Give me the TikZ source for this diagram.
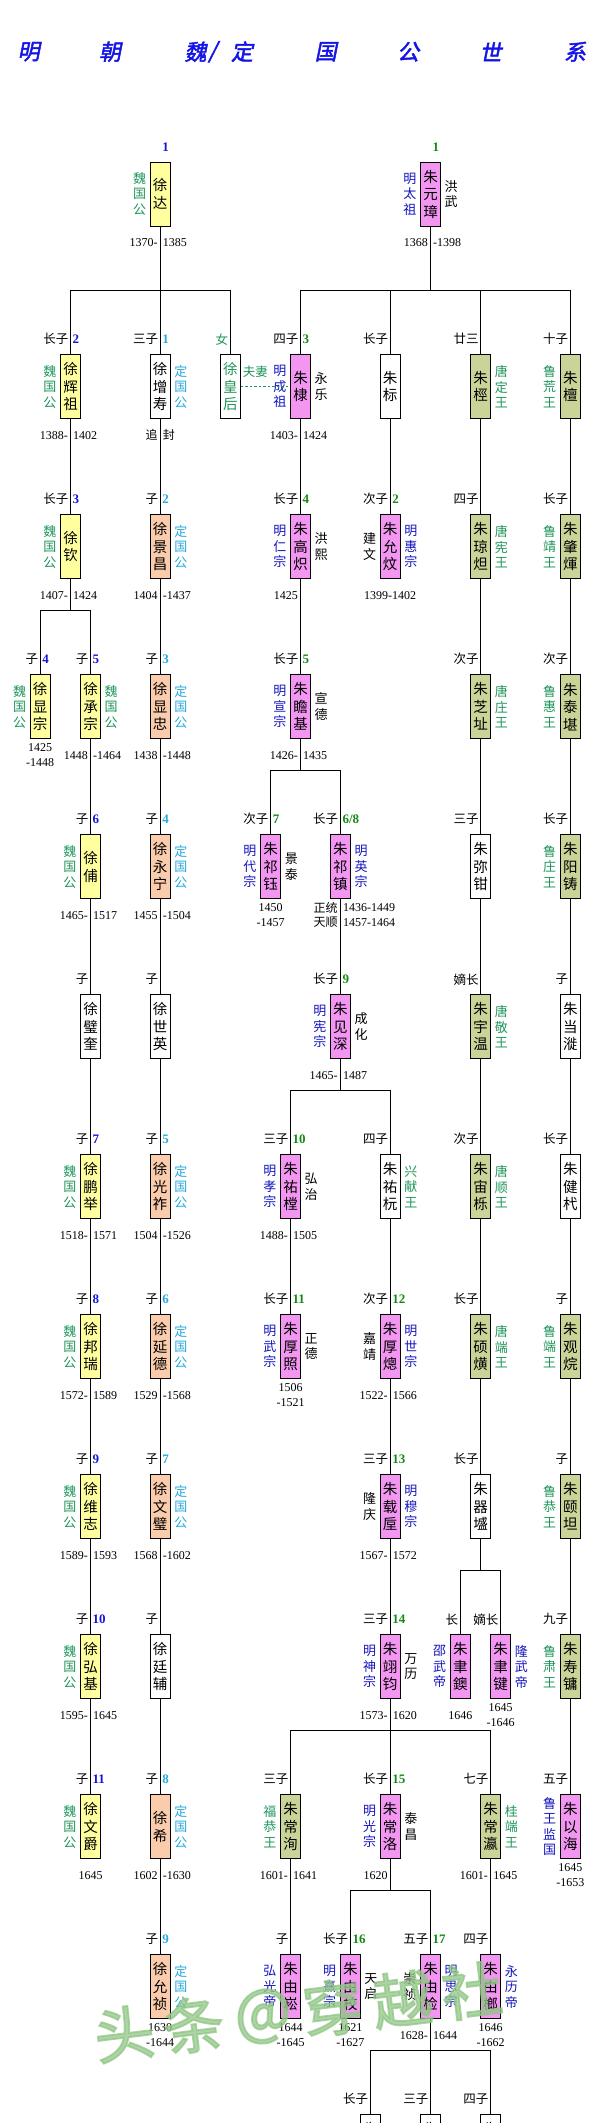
\documentclass[tikz,border=0pt]{standalone}
\usepackage{fontspec}
\setmainfont{Liberation Serif}
\newfontfamily\cjk{Noto Sans CJK SC}
\newfontfamily\titlef[FakeBold=2,FakeSlant=0.2]{Noto Sans CJK SC}
\newfontfamily\wmf[FakeBold=3]{Noto Sans CJK SC}
\definecolor{cwei}{RGB}{255,255,160}
\definecolor{cding}{RGB}{250,204,172}
\definecolor{cemp}{RGB}{242,150,242}
\definecolor{cprn}{RGB}{202,212,152}
\definecolor{wg}{RGB}{30,150,90}
\definecolor{dc}{RGB}{40,170,220}
\definecolor{mb}{RGB}{20,20,190}
\definecolor{nb}{RGB}{20,20,220}
\definecolor{ng}{RGB}{20,140,20}
\definecolor{tb}{RGB}{20,20,230}
\definecolor{wm}{RGB}{145,198,134}
\tikzset{
 pbox/.style={draw,line width=0.9pt,minimum width=20pt,minimum height=64pt,inner sep=0pt,align=center,font=\cjk\fontsize{14.5}{17.5}\selectfont},
 wei/.style={pbox,fill=cwei}, ding/.style={pbox,fill=cding}, emp/.style={pbox,fill=cemp},
 prn/.style={pbox,fill=cprn}, wht/.style={pbox,fill=white},
 rel/.style={inner sep=0pt,font=\cjk\fontsize{12.5}{14}\selectfont},
 num/.style={inner sep=0pt,font=\fontsize{13}{14}\selectfont\bfseries},
 side/.style={inner sep=0pt,align=center,font=\cjk\fontsize{13}{15.5}\selectfont},
 dat/.style={inner sep=0pt,font=\fontsize{12}{14}\selectfont},
 conn/.style={line width=0.9pt},
 ttl/.style={inner sep=0pt,text=tb,font=\titlef\fontsize{22}{24}\selectfont},
}
\newcommand\rl[3]{\node[rel,anchor=east] (#1r) at ([xshift=-2pt,yshift=15pt]#1.north) {#2};
 \node[num,anchor=west] (#1n) at ([xshift=2pt,yshift=15pt]#1.north) {#3};}
\newcommand\lt[3]{\node[side,anchor=east,text=#2] (#1l) at ([xshift=-3.5pt]#1.west) {#3};}
\newcommand\rt[3]{\node[side,anchor=west,text=#2] (#1rt) at ([xshift=3.5pt]#1.east) {#3};}
\newcommand\dtx[5]{\node[dat,anchor=east] (#1#2l) at ([xshift=-2.5pt,yshift=-#3pt]#1.south) {#4};
 \node[dat,anchor=west] (#1#2r) at ([xshift=2.5pt,yshift=-#3pt]#1.south) {#5};}
\newcommand\dt[3]{\dtx{#1}{d}{16}{#2}{#3}}
\newcommand\dtc[2]{\node[dat] (#1dc) at ([yshift=-16pt]#1.south) {#2};}
\newcommand\dtt[3]{\node[dat] (#1da) at ([yshift=-8.5pt]#1.south) {#2};
 \node[dat] (#1db) at ([yshift=-23.3pt]#1.south) {#3};}
\begin{document}
\begin{tikzpicture}[x=1pt,y=-1pt]
\useasboundingbox[fill=white] (0,0) rectangle (601,2123);
% title
\node[ttl] (t1) at (28.7,51.7) {明};
\node[ttl] (t2) at (110,51.7) {朝};
\node[ttl] (t3) at (195.5,51.7) {魏};
\node[ttl] (t4) at (212.7,51.7) {/};
\node[ttl] (t5) at (242,51.7) {定};
\node[ttl] (t6) at (325.8,51.7) {国};
\node[ttl] (t7) at (408.2,51.7) {公};
\node[ttl] (t8) at (490.6,51.7) {世};
\node[ttl] (t9) at (575,51.7) {系};
% ===== Xu family =====
\node[wei] (xuda) at (160.2,194) {徐\\达};
\node[num,anchor=west] (xudan) at ([xshift=2pt,yshift=14pt]xuda.north) {\color{nb}1};
\lt{xuda}{wg}{魏\\国\\公}
\dt{xuda}{1370-}{1385}
% R2
\node[wei] (huizu) at (70.5,386.7) {徐\\辉\\祖};
\rl{huizu}{长子}{\color{nb}2}\lt{huizu}{wg}{魏\\国\\公}\dt{huizu}{1388-}{1402}
\node[wht] (zengshou) at (160.2,386.7) {徐\\增\\寿};
\rl{zengshou}{三子}{\color{dc}1}\rt{zengshou}{dc}{定\\国\\公}\dt{zengshou}{\cjk 追}{\cjk 封}
\node[wht,text=wg] (huanghou) at (230.4,386.7) {徐\\皇\\后};
\rl{huanghou}{\color{wg}女}{}
% R3
\node[wei] (xuqin) at (70.5,546.7) {徐\\钦};
\rl{xuqin}{长子}{\color{nb}3}\lt{xuqin}{wg}{魏\\国\\公}\dt{xuqin}{1407-}{1424}
\node[ding] (jingchang) at (160.2,546.7) {徐\\景\\昌};
\rl{jingchang}{子}{\color{dc}2}\rt{jingchang}{dc}{定\\国\\公}\dt{jingchang}{1404}{-1437}
% R4
\node[wei] (xianzong) at (40.2,706.7) {徐\\显\\宗};
\rl{xianzong}{子}{\color{nb}4}\lt{xianzong}{wg}{魏\\国\\公}\dtt{xianzong}{1425}{-1448}
\node[wei] (chengzong) at (90.5,706.7) {徐\\承\\宗};
\rl{chengzong}{子}{\color{nb}5}\rt{chengzong}{wg}{魏\\国\\公}\dt{chengzong}{1448}{-1464}
\node[ding] (xianzhong) at (160.2,706.7) {徐\\显\\忠};
\rl{xianzhong}{子}{\color{dc}3}\rt{xianzhong}{dc}{定\\国\\公}\dt{xianzhong}{1438}{-1448}
% R5
\node[wei] (fu) at (90.5,866.7) {徐\\俌};
\rl{fu}{子}{\color{nb}6}\lt{fu}{wg}{魏\\国\\公}\dt{fu}{1465-}{1517}
\node[ding] (yongning) at (160.2,866.7) {徐\\永\\宁};
\rl{yongning}{子}{\color{dc}4}\rt{yongning}{dc}{定\\国\\公}\dt{yongning}{1455}{-1504}
% R6
\node[wht] (kuibi) at (90.5,1026.7) {徐\\璧\\奎};
\rl{kuibi}{子}{}
\node[wht] (shiying) at (160.2,1026.7) {徐\\世\\英};
\rl{shiying}{子}{}
% R7
\node[wei] (pengju) at (90.5,1186.7) {徐\\鹏\\举};
\rl{pengju}{子}{\color{nb}7}\lt{pengju}{wg}{魏\\国\\公}\dt{pengju}{1518-}{1571}
\node[ding] (guangzuo) at (160.2,1186.7) {徐\\光\\祚};
\rl{guangzuo}{子}{\color{dc}5}\rt{guangzuo}{dc}{定\\国\\公}\dt{guangzuo}{1504}{-1526}
% R8
\node[wei] (bangrui) at (90.5,1346.7) {徐\\邦\\瑞};
\rl{bangrui}{子}{\color{nb}8}\lt{bangrui}{wg}{魏\\国\\公}\dt{bangrui}{1572-}{1589}
\node[ding] (yande) at (160.2,1346.7) {徐\\延\\德};
\rl{yande}{子}{\color{dc}6}\rt{yande}{dc}{定\\国\\公}\dt{yande}{1529}{-1568}
% R9
\node[wei] (weizhi) at (90.5,1506.7) {徐\\维\\志};
\rl{weizhi}{子}{\color{nb}9}\lt{weizhi}{wg}{魏\\国\\公}\dt{weizhi}{1589-}{1593}
\node[ding] (wenbi) at (160.2,1506.7) {徐\\文\\璧};
\rl{wenbi}{子}{\color{dc}7}\rt{wenbi}{dc}{定\\国\\公}\dt{wenbi}{1568}{-1602}
% R10
\node[wei] (hongji) at (90.5,1666.7) {徐\\弘\\基};
\rl{hongji}{子}{\color{nb}10}\lt{hongji}{wg}{魏\\国\\公}\dt{hongji}{1595-}{1645}
\node[wht] (tingfu) at (160.2,1666.7) {徐\\廷\\辅};
\rl{tingfu}{子}{}
% R11
\node[wei] (wenjue) at (90.5,1826.7) {徐\\文\\爵};
\rl{wenjue}{子}{\color{nb}11}\lt{wenjue}{wg}{魏\\国\\公}\dtc{wenjue}{1645}
\node[ding] (xixi) at (160.2,1826.7) {徐\\希};
\rl{xixi}{子}{\color{dc}8}\rt{xixi}{dc}{定\\国\\公}\dt{xixi}{1602}{-1630}
% R12
\node[ding] (yunzhen) at (160.2,1986.7) {徐\\允\\祯};
\rl{yunzhen}{子}{\color{dc}9}\rt{yunzhen}{dc}{定\\国\\公}\dtt{yunzhen}{1630}{-1644}
% ===== Zhu family =====
\node[emp] (yz) at (430.5,194) {朱\\元\\璋};
\node[num,anchor=west] (yzn) at ([xshift=2pt,yshift=14pt]yz.north) {\color{ng}1};
\lt{yz}{mb}{明\\太\\祖}\rt{yz}{black}{洪\\武}\dt{yz}{1368}{-1398}
% R2
\node[emp] (di) at (300.5,386.7) {朱\\棣};
\rl{di}{四子}{\color{ng}3}\lt{di}{mb}{明\\成\\祖}\rt{di}{black}{永\\乐}\dt{di}{1403-}{1424}
\node[wht] (biao) at (390.2,386.7) {朱\\标};
\rl{biao}{长子}{}
\node[prn] (jing) at (480.7,386.7) {朱\\桱};
\rl{jing}{廿三}{}\rt{jing}{wg}{唐\\定\\王}
\node[prn] (tan) at (570.3,386.7) {朱\\檀};
\rl{tan}{十子}{}\lt{tan}{wg}{鲁\\荒\\王}
% R3
\node[emp] (gaochi) at (300.5,546.7) {朱\\高\\炽};
\rl{gaochi}{长子}{\color{ng}4}\lt{gaochi}{mb}{明\\仁\\宗}\rt{gaochi}{black}{洪\\熙}\dt{gaochi}{1425}{}
\node[emp] (yunwen) at (390.2,546.7) {朱\\允\\炆};
\rl{yunwen}{次子}{\color{ng}2}\lt{yunwen}{black}{建\\文}\rt{yunwen}{mb}{明\\惠\\宗}\dtc{yunwen}{1399-1402}
\node[prn] (qiongda) at (480.7,546.7) {朱\\琼\\炟};
\rl{qiongda}{四子}{}\rt{qiongda}{wg}{唐\\宪\\王}
\node[prn] (zhaohui) at (570.3,546.7) {朱\\肇\\煇};
\rl{zhaohui}{长子}{}\lt{zhaohui}{wg}{鲁\\靖\\王}
% R4
\node[emp] (zhanji) at (300.5,706.7) {朱\\瞻\\基};
\rl{zhanji}{长子}{\color{ng}5}\lt{zhanji}{mb}{明\\宣\\宗}\rt{zhanji}{black}{宣\\德}\dt{zhanji}{1426-}{1435}
\node[prn] (zhizhi) at (480.7,706.7) {朱\\芝\\址};
\rl{zhizhi}{次子}{}\rt{zhizhi}{wg}{唐\\庄\\王}
\node[prn] (taikan) at (570.3,706.7) {朱\\泰\\堪};
\rl{taikan}{次子}{}\lt{taikan}{wg}{鲁\\惠\\王}
% R5
\node[emp] (qiyu) at (270.6,866.7) {朱\\祁\\钰};
\rl{qiyu}{次子}{\color{ng}7}\lt{qiyu}{mb}{明\\代\\宗}\rt{qiyu}{black}{景\\泰}\dtt{qiyu}{1450}{-1457}
\node[emp] (qizhen) at (340.4,866.7) {朱\\祁\\镇};
\rl{qizhen}{长子}{\color{ng}6/8}\rt{qizhen}{mb}{明\\英\\宗}
\dtx{qizhen}{a}{8.5}{\cjk 正统}{1436-1449}
\dtx{qizhen}{b}{23.3}{\cjk 天顺}{1457-1464}
\node[wht] (mijian) at (480.7,866.7) {朱\\弥\\钳};
\rl{mijian}{三子}{}
\node[prn] (yangzhu) at (570.3,866.7) {朱\\阳\\铸};
\rl{yangzhu}{长子}{}\lt{yangzhu}{wg}{鲁\\庄\\王}
% R6
\node[emp] (jianshen) at (340.4,1026.7) {朱\\见\\深};
\rl{jianshen}{长子}{\color{ng}9}\lt{jianshen}{mb}{明\\宪\\宗}\rt{jianshen}{black}{成\\化}\dt{jianshen}{1465-}{1487}
\node[prn] (yuwen) at (480.7,1026.7) {朱\\宇\\温};
\rl{yuwen}{嫡长}{}\rt{yuwen}{wg}{唐\\敬\\王}
\node[wht] (dangyi) at (570.3,1026.7) {朱\\当\\漇};
\rl{dangyi}{子}{}
% R7
\node[emp] (youtang) at (290.5,1186.7) {朱\\祐\\樘};
\rl{youtang}{三子}{\color{ng}10}\lt{youtang}{mb}{明\\孝\\宗}\rt{youtang}{black}{弘\\治}\dt{youtang}{1488-}{1505}
\node[wht] (youyuan) at (390.2,1186.7) {朱\\祐\\杬};
\rl{youyuan}{四子}{}\rt{youyuan}{wg}{兴\\献\\王}
\node[prn] (zhouli) at (480.7,1186.7) {朱\\宙\\栎};
\rl{zhouli}{次子}{}\rt{zhouli}{wg}{唐\\顺\\王}
\node[wht] (jianyi) at (570.3,1186.7) {朱\\健\\杙};
\rl{jianyi}{长子}{}
% R8
\node[emp] (houzhao) at (290.5,1346.7) {朱\\厚\\照};
\rl{houzhao}{长子}{\color{ng}11}\lt{houzhao}{mb}{明\\武\\宗}\rt{houzhao}{black}{正\\德}\dtt{houzhao}{1506}{-1521}
\node[emp] (houcong) at (390.2,1346.7) {朱\\厚\\熜};
\rl{houcong}{次子}{\color{ng}12}\lt{houcong}{black}{嘉\\靖}\rt{houcong}{mb}{明\\世\\宗}\dt{houcong}{1522-}{1566}
\node[prn] (shuohuang) at (480.7,1346.7) {朱\\硕\\熿};
\rl{shuohuang}{长子}{}\rt{shuohuang}{wg}{唐\\端\\王}
\node[prn] (guanding) at (570.3,1346.7) {朱\\观\\烷};
\rl{guanding}{子}{}\lt{guanding}{wg}{鲁\\端\\王}
% R9
\node[emp] (zaihou) at (390.2,1506.7) {朱\\载\\垕};
\rl{zaihou}{三子}{\color{ng}13}\lt{zaihou}{black}{隆\\庆}\rt{zaihou}{mb}{明\\穆\\宗}\dt{zaihou}{1567-}{1572}
\node[wht] (qiyong) at (480.7,1506.7) {朱\\器\\墭};
\rl{qiyong}{长子}{}
\node[prn] (yitan) at (570.3,1506.7) {朱\\颐\\坦};
\rl{yitan}{子}{}\lt{yitan}{wg}{鲁\\恭\\王}
% R10
\node[emp] (yijun) at (390.2,1666.7) {朱\\翊\\钧};
\rl{yijun}{三子}{\color{ng}14}\lt{yijun}{mb}{明\\神\\宗}\rt{yijun}{black}{万\\历}\dt{yijun}{1573-}{1620}
\node[emp] (yuyu) at (460.3,1666.7) {朱\\聿\\鐭};
\rl{yuyu}{长}{}\lt{yuyu}{mb}{邵\\武\\帝}\dtc{yuyu}{1646}
\node[emp] (yujian) at (500.6,1666.7) {朱\\聿\\键};
\rl{yujian}{嫡长}{}\rt{yujian}{mb}{隆\\武\\帝}\dtt{yujian}{1645}{-1646}
\node[prn] (shouyong) at (570.3,1666.7) {朱\\寿\\镛};
\rl{shouyong}{九子}{}\lt{shouyong}{wg}{鲁\\肃\\王}
% R11
\node[prn] (changxun) at (290.5,1826.7) {朱\\常\\洵};
\rl{changxun}{三子}{}\lt{changxun}{wg}{福\\恭\\王}\dt{changxun}{1601-}{1641}
\node[emp] (changluo) at (390.2,1826.7) {朱\\常\\洛};
\rl{changluo}{长子}{\color{ng}15}\lt{changluo}{mb}{明\\光\\宗}\rt{changluo}{black}{泰\\昌}\dt{changluo}{1620}{}
\node[prn] (changying) at (490.6,1826.7) {朱\\常\\瀛};
\rl{changying}{七子}{}\rt{changying}{wg}{桂\\端\\王}\dt{changying}{1601-}{1645}
\node[emp] (yihai) at (570.3,1826.7) {朱\\以\\海};
\rl{yihai}{五子}{}\lt{yihai}{mb}{鲁\\王\\监\\国}\dtt{yihai}{1645}{-1653}
% R12
\node[emp] (yousong) at (290.5,1986.7) {朱\\由\\崧};
\rl{yousong}{子}{}\lt{yousong}{mb}{弘\\光\\帝}\dtt{yousong}{1644}{-1645}
\node[emp] (youxiao) at (350.3,1986.7) {朱\\由\\校};
\rl{youxiao}{长子}{\color{ng}16}\lt{youxiao}{mb}{明\\熹\\宗}\rt{youxiao}{black}{天\\启}\dtt{youxiao}{1621}{-1627}
\node[emp] (youjian) at (430.5,1986.7) {朱\\由\\检};
\rl{youjian}{五子}{\color{ng}17}\lt{youjian}{black}{崇\\祯}\rt{youjian}{mb}{明\\思\\宗}\dt{youjian}{1628-}{1644}
\node[emp] (youlang) at (490.6,1986.7) {朱\\由\\榔};
\rl{youlang}{四子}{}\rt{youlang}{mb}{永\\历\\帝}\dtt{youlang}{1646}{-1662}
% R13
\node[wht] (ca) at (370.3,2146.7) {朱\\\phantom{朱}\\\phantom{朱}};
\rl{ca}{长子}{}
\node[wht] (cb) at (430.5,2146.7) {朱\\\phantom{朱}\\\phantom{朱}};
\rl{cb}{三子}{}
\node[wht] (cc) at (490.6,2146.7) {朱\\\phantom{朱}\\\phantom{朱}};
\rl{cc}{四子}{}
% ===== connectors =====
\coordinate (bx1) at (160.2,290.3);
\coordinate (bx2) at (70.5,610.3);
\draw[conn] (huizu.north) |- (bx1) -| (huanghou.north);
\draw[conn] (xuda.south) -- (zengshou.north);
\draw[conn] (huizu.south) -- (xuqin.north);
\draw[conn] (xuqin.south) -- (bx2);
\draw[conn] (xianzong.north) |- (bx2) -| (chengzong.north);
\draw[conn] (chengzong.south) -- (fu.north);
\draw[conn] (fu.south) -- (kuibi.north);
\draw[conn] (kuibi.south) -- (pengju.north);
\draw[conn] (pengju.south) -- (bangrui.north);
\draw[conn] (bangrui.south) -- (weizhi.north);
\draw[conn] (weizhi.south) -- (hongji.north);
\draw[conn] (hongji.south) -- (wenjue.north);
\draw[conn] (zengshou.south) -- (jingchang.north);
\draw[conn] (jingchang.south) -- (xianzhong.north);
\draw[conn] (xianzhong.south) -- (yongning.north);
\draw[conn] (yongning.south) -- (shiying.north);
\draw[conn] (shiying.south) -- (guangzuo.north);
\draw[conn] (guangzuo.south) -- (yande.north);
\draw[conn] (yande.south) -- (wenbi.north);
\draw[conn] (wenbi.south) -- (tingfu.north);
\draw[conn] (tingfu.south) -- (xixi.north);
\draw[conn] (xixi.south) -- (yunzhen.north);
\coordinate (bz1) at (430.5,290.3);
\draw[conn] (yz.south) -- (bz1);
\draw[conn] (di.north) |- (bz1) -| (tan.north);
\draw[conn] (biao.north) -- (biao.north |- bz1);
\draw[conn] (jing.north) -- (jing.north |- bz1);
\draw[conn] (di.south) -- (gaochi.north);
\draw[conn] (gaochi.south) -- (zhanji.north);
\draw[conn] (biao.south) -- (yunwen.north);
\draw[conn] (jing.south) -- (qiongda.north);
\draw[conn] (qiongda.south) -- (zhizhi.north);
\draw[conn] (zhizhi.south) -- (mijian.north);
\draw[conn] (mijian.south) -- (yuwen.north);
\draw[conn] (yuwen.south) -- (zhouli.north);
\draw[conn] (zhouli.south) -- (shuohuang.north);
\draw[conn] (shuohuang.south) -- (qiyong.north);
\draw[conn] (tan.south) -- (zhaohui.north);
\draw[conn] (zhaohui.south) -- (taikan.north);
\draw[conn] (taikan.south) -- (yangzhu.north);
\draw[conn] (yangzhu.south) -- (dangyi.north);
\draw[conn] (dangyi.south) -- (jianyi.north);
\draw[conn] (jianyi.south) -- (guanding.north);
\draw[conn] (guanding.south) -- (yitan.north);
\draw[conn] (yitan.south) -- (shouyong.north);
\draw[conn] (shouyong.south) -- (yihai.north);
\coordinate (bz2) at (300.5,770.3);
\draw[conn] (zhanji.south) -- (bz2);
\draw[conn] (qiyu.north) |- (bz2) -| (qizhen.north);
\draw[conn] (qizhen.south) -- (jianshen.north);
\coordinate (bz3) at (340.4,1090.7);
\draw[conn] (jianshen.south) -- (bz3);
\draw[conn] (youtang.north) |- (bz3) -| (youyuan.north);
\draw[conn] (youtang.south) -- (houzhao.north);
\draw[conn] (youyuan.south) -- (houcong.north);
\draw[conn] (houcong.south) -- (zaihou.north);
\draw[conn] (zaihou.south) -- (yijun.north);
\coordinate (bz4) at (480.7,1570.3);
\draw[conn] (qiyong.south) -- (bz4);
\draw[conn] (yuyu.north) |- (bz4) -| (yujian.north);
\coordinate (bz5) at (390.2,1730.3);
\draw[conn] (yijun.south) -- (changluo.north);
\draw[conn] (changxun.north) |- (bz5) -| (changying.north);
\draw[conn] (changxun.south) -- (yousong.north);
\draw[conn] (changying.south) -- (youlang.north);
\coordinate (bz6) at (390.2,1890.3);
\draw[conn] (changluo.south) -- (bz6);
\draw[conn] (youxiao.north) |- (bz6) -| (youjian.north);
\coordinate (bz7) at (430.5,2050.7);
\draw[conn] (youjian.south) -- (cb.north);
\draw[conn] (ca.north) |- (bz7) -| (cc.north);
% spouse link
\draw[wg,line width=0.9pt,dash pattern=on 2.5pt off 2pt] (huanghou.east) -- node[midway,yshift=15pt,xshift=-10pt,rel,text=wg] (fuqi) {夫妻} (di.west);
% watermark
\node[inner sep=0pt,text=wm,opacity=0.75,rotate=7,font=\wmf\fontsize{60}{60}\selectfont] (wmk) at (298,2012) {头\hspace{10pt}条\hspace{10pt}＠\hspace{10pt}穿\hspace{10pt}越\hspace{10pt}社};
\end{tikzpicture}
\end{document}
